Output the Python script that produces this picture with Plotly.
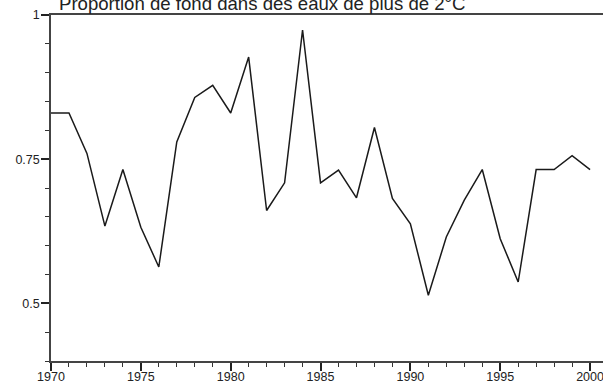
import plotly.graph_objects as go

years = list(range(1970, 2001))
proportion = [0.830, 0.830, 0.760, 0.634, 0.732, 0.632, 0.563, 0.780, 0.857, 0.878,
              0.830, 0.927, 0.661, 0.709, 0.974, 0.709, 0.731, 0.683, 0.805, 0.682,
              0.638, 0.514, 0.615, 0.679, 0.732, 0.612, 0.537, 0.732, 0.732, 0.756,
              0.732]
y_tickvals = [0.5, 0.75, 1.0]
y_ticktext = ["0.5", "0.75", "1"]
x_tickvals = [1970, 1975, 1980, 1985, 1990, 1995, 2000]
title_text = "Proportion de fond dans des eaux de plus de 2°C"

fig = go.Figure()
fig.add_trace(go.Scatter(x=years, y=proportion, mode="lines",
                         line=dict(color="#1a1a1a", width=1.5),
                         hoverinfo="skip", showlegend=False))

axis_font = dict(family="Liberation Sans, Arial, sans-serif", size=12.5, color="#222")

fig.update_layout(
    width=603, height=385,
    margin=dict(l=51, r=0, t=15, b=24, pad=0),
    paper_bgcolor="white", plot_bgcolor="white",
    xaxis=dict(range=[1970, 2000.72], tickmode="array", tickvals=x_tickvals,
               ticks="outside", ticklen=8, tickwidth=1.5, tickcolor="#222",
               showline=True, linecolor="#444", linewidth=1.5, mirror=True,
               showgrid=False, zeroline=False, tickfont=axis_font,
               automargin=False, ticklabelstandoff=-5, ticklabeloverflow="allow",
               minor=dict(dtick=1, tick0=1970, ticks="outside", ticklen=4,
                          tickwidth=1.3, tickcolor="#333", showgrid=False)),
    yaxis=dict(range=[0.4, 1.0], tickmode="array", tickvals=y_tickvals, ticktext=y_ticktext,
               ticks="outside", ticklen=8, tickwidth=1.5, tickcolor="#222",
               showline=True, linecolor="#444", linewidth=1.5, mirror=False,
               showgrid=False, zeroline=False, tickfont=axis_font,
               automargin=False, ticklabelstandoff=-1, ticklabeloverflow="allow",
               minor=dict(dtick=0.05, tick0=0.4, ticks="outside", ticklen=4,
                          tickwidth=1.3, tickcolor="#333", showgrid=False)),
    annotations=[dict(text=title_text, xref="paper", yref="paper",
                      x=6/552, y=1, xanchor="left", yanchor="middle",
                      yshift=11.5, showarrow=False,
                      font=dict(family="Liberation Sans, Arial, sans-serif",
                                size=18.6, color="#222"))],
)

fig.write_html("out.html", config={"displayModeBar": False},
               post_script="document.body.style.margin='0';document.body.style.overflow='hidden';")
